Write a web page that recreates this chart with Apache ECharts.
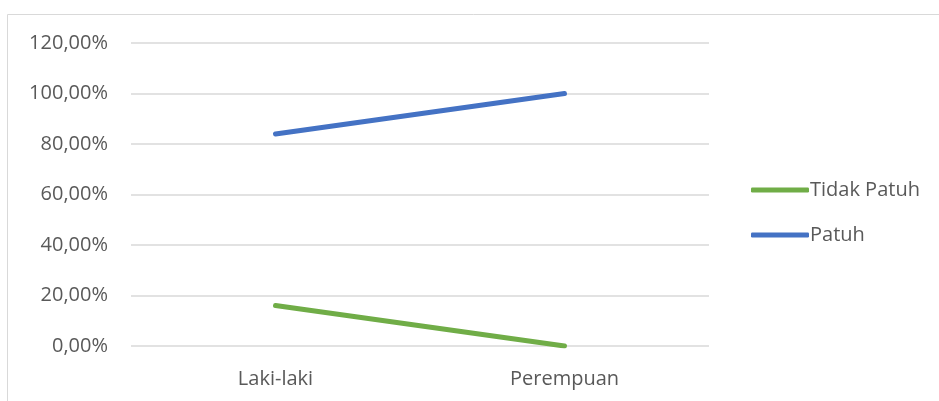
<!DOCTYPE html>
<html>
<head>
<meta charset="utf-8">
<script src="https://cdn.jsdelivr.net/npm/echarts@6/dist/echarts.min.js"></script>
<style>
  html, body { margin: 0; padding: 0; background: #fff; }
  #main { width: 939px; height: 401px; }
</style>
</head>
<body>
<div id="main"></div>
<script>
// kategori dan nilai (persen)
let categories = ["Laki-laki", "Perempuan"];
let tidakPatuh = [16, 0];
let patuh = [84, 100];

let myChart = echarts.init(document.getElementById("main"));

let option = {
  animation: false,
  textStyle: { fontFamily: "Open Sans", color: "#595959" },
  graphic: [
    {
      // bingkai tipis di sekeliling grafik
      type: "rect",
      shape: { x: 7.5, y: 14.5, width: 940, height: 400 },
      style: { fill: "none", stroke: "#d9d9d9", lineWidth: 1 }
    }
  ],
  grid: { left: 131, right: 230, top: 43, bottom: 55 },
  legend: {
    orient: "vertical",
    left: 746,
    top: 175,
    itemWidth: 58,
    itemHeight: 5,
    itemGap: 25,
    icon: "roundRect",
    textStyle: { fontSize: 20, color: "#595959", padding: [0, 0, 0, -4] },
    data: ["Tidak Patuh", "Patuh"]
  },
  xAxis: {
    type: "category",
    data: categories,
    boundaryGap: true,
    axisLine: { show: false },
    axisTick: { show: false },
    axisLabel: { fontSize: 20, color: "#595959", margin: 23 }
  },
  yAxis: {
    type: "value",
    min: 0,
    max: 120,
    interval: 20,
    axisLine: { show: false },
    axisTick: { show: false },
    axisLabel: {
      fontSize: 20,
      color: "#595959",
      margin: 23,
      formatter: function (v) {
        return v.toFixed(2).replace(".", ",") + "%";
      }
    },
    splitLine: { lineStyle: { color: "#d9d9d9", width: 1.5 } }
  },
  series: [
    {
      name: "Tidak Patuh",
      type: "line",
      data: tidakPatuh,
      symbol: "none",
      lineStyle: { color: "#70ad47", width: 5, cap: "round" },
      itemStyle: { color: "#70ad47" }
    },
    {
      name: "Patuh",
      type: "line",
      data: patuh,
      symbol: "none",
      lineStyle: { color: "#4472c4", width: 5, cap: "round" },
      itemStyle: { color: "#4472c4" }
    }
  ]
};

myChart.setOption(option);
</script>
</body>
</html>
